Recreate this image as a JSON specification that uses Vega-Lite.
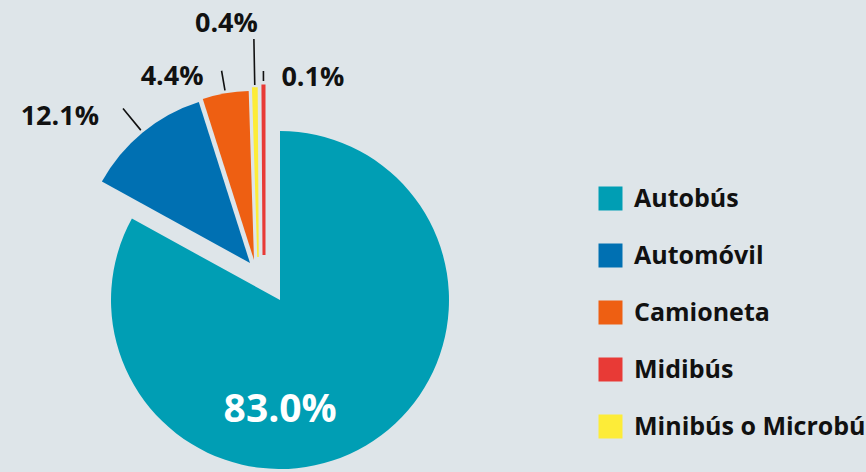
{
  "$schema": "https://vega.github.io/schema/vega-lite/v6.json",
  "width": 560,
  "height": 344,
  "autosize": "none",
  "padding": {"left": 0, "top": 128, "right": 306, "bottom": 0},
  "background": "#dee5e9",
  "config": {"view": {"stroke": null}, "font": "Open Sans"},
  "data": {"values": [
    {"category": "Autobús", "value": 83.0, "order": 1},
    {"category": "Automóvil", "value": 12.1, "order": 2},
    {"category": "Camioneta", "value": 4.4, "order": 3},
    {"category": "Minibús o Microbús", "value": 0.4, "order": 4},
    {"category": "Midibús", "value": 0.1, "order": 5}
  ]},
  "transform": [
    {"stack": "value", "groupby": [], "sort": [{"field": "order", "order": "ascending"}], "as": ["start", "end"]},
    {"calculate": "(datum.start + datum.end) / 2", "as": "mid"},
    {"calculate": "format(datum.value, '.1f') + '%'", "as": "label"}
  ],
  "layer": [
    {
      "transform": [{"filter": "datum.category === 'Autobús'"}],
      "mark": {"type": "arc", "outerRadius": 169},
      "encoding": {
        "theta": {"field": "start", "type": "quantitative", "scale": {"domain": [0, 100]}},
        "theta2": {"field": "end"},
        "color": {
          "field": "category", "type": "nominal",
          "scale": {
            "domain": ["Autobús", "Automóvil", "Camioneta", "Midibús", "Minibús o Microbús"],
            "range": ["#009eb4", "#0070b2", "#ee5f12", "#e83a36", "#fdec38"]
          },
          "legend": {
            "orient": "none", "legendX": 598, "legendY": 58, "title": null,
            "symbolType": "square", "symbolSize": 576, "symbolStrokeWidth": 0,
            "labelFontSize": 25, "labelFontWeight": "bold", "labelColor": "#111111",
            "labelFont": "Open Sans", "labelOffset": 11, "rowPadding": 31,
            "labelLimit": 600, "padding": 0
          }
        }
      }
    },
    {
      "transform": [{"filter": "datum.category === 'Automóvil'"}],
      "layer": [
        {
          "mark": {"type": "arc", "outerRadius": 169, "xOffset": -30, "yOffset": -37},
          "encoding": {
            "theta": {"field": "start", "type": "quantitative", "scale": {"domain": [0, 100]}},
            "theta2": {"field": "end"},
            "color": {"field": "category", "type": "nominal"}
          }
        },
        {
          "mark": {"type": "arc", "innerRadius": 172, "outerRadius": 200, "xOffset": -30, "yOffset": -37, "fillOpacity": 0, "stroke": "#111111", "strokeWidth": 1.6},
          "encoding": {
            "theta": {"field": "mid", "type": "quantitative", "scale": {"domain": [0, 100]}},
            "theta2": {"field": "mid"}
          }
        },
        {
          "mark": {"type": "text", "radius": 200, "xOffset": -30, "yOffset": -37, "dx": -24, "dy": 9, "align": "right", "baseline": "middle", "fontSize": 27, "fontWeight": "bold", "color": "#111111"},
          "encoding": {
            "theta": {"field": "mid", "type": "quantitative", "scale": {"domain": [0, 100]}},
            "text": {"field": "label"}
          }
        }
      ]
    },
    {
      "transform": [{"filter": "datum.category === 'Camioneta'"}],
      "layer": [
        {
          "mark": {"type": "arc", "outerRadius": 169, "xOffset": -26, "yOffset": -40},
          "encoding": {
            "theta": {"field": "start", "type": "quantitative", "scale": {"domain": [0, 100]}},
            "theta2": {"field": "end"},
            "color": {"field": "category", "type": "nominal"}
          }
        },
        {
          "mark": {"type": "arc", "innerRadius": 172, "outerRadius": 192, "xOffset": -26, "yOffset": -40, "fillOpacity": 0, "stroke": "#111111", "strokeWidth": 1.6},
          "encoding": {
            "theta": {"field": "mid", "type": "quantitative", "scale": {"domain": [0, 100]}},
            "theta2": {"field": "mid"}
          }
        },
        {
          "mark": {"type": "text", "radius": 192, "xOffset": -26, "yOffset": -40, "dx": -18, "dy": 6, "align": "right", "baseline": "middle", "fontSize": 27, "fontWeight": "bold", "color": "#111111"},
          "encoding": {
            "theta": {"field": "mid", "type": "quantitative", "scale": {"domain": [0, 100]}},
            "text": {"field": "label"}
          }
        }
      ]
    },
    {
      "transform": [{"filter": "datum.category === 'Minibús o Microbús'"}],
      "layer": [
        {
          "mark": {"type": "arc", "outerRadius": 169, "xOffset": -22, "yOffset": -43, "stroke": "#fdec38", "strokeWidth": 1.5},
          "encoding": {
            "theta": {"field": "start", "type": "quantitative", "scale": {"domain": [0, 100]}},
            "theta2": {"field": "end"},
            "color": {"field": "category", "type": "nominal"}
          }
        },
        {
          "mark": {"type": "arc", "innerRadius": 172, "outerRadius": 218, "xOffset": -22, "yOffset": -43, "fillOpacity": 0, "stroke": "#111111", "strokeWidth": 1.6},
          "encoding": {
            "theta": {"field": "mid", "type": "quantitative", "scale": {"domain": [0, 100]}},
            "theta2": {"field": "mid"}
          }
        },
        {
          "mark": {"type": "text", "radius": 218, "xOffset": -22, "yOffset": -43, "dx": 4, "dy": -15, "align": "right", "baseline": "middle", "fontSize": 27, "fontWeight": "bold", "color": "#111111"},
          "encoding": {
            "theta": {"field": "mid", "type": "quantitative", "scale": {"domain": [0, 100]}},
            "text": {"field": "label"}
          }
        }
      ]
    },
    {
      "transform": [{"filter": "datum.category === 'Midibús'"}],
      "layer": [
        {
          "mark": {"type": "arc", "outerRadius": 169, "xOffset": -16, "yOffset": -45, "stroke": "#e83a36", "strokeWidth": 3},
          "encoding": {
            "theta": {"field": "start", "type": "quantitative", "scale": {"domain": [0, 100]}},
            "theta2": {"field": "end"},
            "color": {"field": "category", "type": "nominal"}
          }
        },
        {
          "mark": {"type": "arc", "innerRadius": 174, "outerRadius": 184, "xOffset": -16, "yOffset": -45, "fillOpacity": 0, "stroke": "#111111", "strokeWidth": 1.6},
          "encoding": {
            "theta": {"field": "mid", "type": "quantitative", "scale": {"domain": [0, 100]}},
            "theta2": {"field": "mid"}
          }
        },
        {
          "mark": {"type": "text", "radius": 184, "xOffset": -16, "yOffset": -45, "dx": 18, "dy": 7, "align": "left", "baseline": "middle", "fontSize": 27, "fontWeight": "bold", "color": "#111111"},
          "encoding": {
            "theta": {"field": "mid", "type": "quantitative", "scale": {"domain": [0, 100]}},
            "text": {"field": "label"}
          }
        }
      ]
    },
    {
      "transform": [{"filter": "datum.category === 'Autobús'"}],
      "mark": {"type": "text", "radius": 128, "dx": -65, "dy": 0, "align": "center", "baseline": "middle", "fontSize": 39, "fontWeight": "bold", "color": "#ffffff"},
      "encoding": {
        "theta": {"field": "mid", "type": "quantitative", "scale": {"domain": [0, 100]}},
        "text": {"field": "label"}
      }
    }
  ]
}
